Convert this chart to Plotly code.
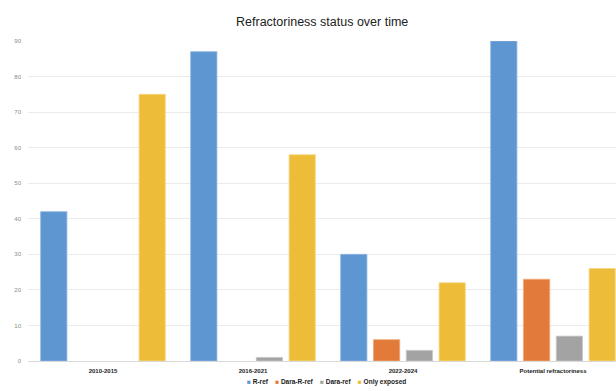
import plotly.graph_objects as go

categories = ["2010-2015", "2016-2021", "2022-2024", "Potential refractoriness"]
r_ref = [42, 87, 30, 90]
dara_r_ref = [0, 0, 6, 23]
dara_ref = [0, 1, 3, 7]
only_exposed = [75, 58, 22, 26]

series = [
    ("R-ref", r_ref, "#5E96D2", "#8DB5E2"),
    ("Dara-R-ref", dara_r_ref, "#E27B3A", "#F0A77A"),
    ("Dara-ref", dara_ref, "#A3A3A3", "#C8C8C8"),
    ("Only exposed", only_exposed, "#EDBD3A", "#F6D782"),
]

fig = go.Figure()
for name, vals, color, edge in series:
    # thin lighter edge only on bars that have a height
    widths = [0.8 if v > 0 else 0 for v in vals]
    fig.add_trace(go.Bar(
        name=name, x=categories, y=vals,
        marker=dict(color=color, line=dict(color=edge, width=widths)),
    ))

# compact one-line key beneath the axis: small coloured square + series name
key_text = "&nbsp;&nbsp;&nbsp;&nbsp;".join(
    f"<span style='color:{color}'>■</span>&nbsp;<b>{name}</b>"
    for name, _, color, _ in series
)
fig.add_annotation(
    text=key_text, xref="paper", yref="paper", x=0.5085, y=-0.066,
    xanchor="center", yanchor="middle", showarrow=False,
    font=dict(size=6.5, color="#222222"),
)

fig.update_layout(
    width=616, height=391,
    margin=dict(l=28, r=0, t=41, b=30, autoexpand=False),
    paper_bgcolor="white", plot_bgcolor="white",
    barmode="group", bargap=0.125, bargroupgap=0.2,
    font=dict(family="Liberation Sans, Arial, sans-serif"),
    title=dict(text="Refractoriness status over time", x=0.523, xref="container",
               y=0.944, yref="container", xanchor="center", yanchor="middle",
               font=dict(size=12.5, color="#222222")),
    showlegend=False,
)
fig.update_xaxes(
    range=[-0.5, 3.42], tickmode="array", tickvals=categories,
    showgrid=False, showline=True, linecolor="#D9D9D9", linewidth=1,
    ticks="", tickfont=dict(size=6, color="#222222", weight="bold"), ticklabelstandoff=4,
)
fig.update_yaxes(
    range=[0, 90], dtick=10, showgrid=True, gridcolor="#EBEBEB", gridwidth=1,
    zeroline=False, showline=False, ticks="",
    tickfont=dict(size=6, color="#8A8A8A"), ticklabelstandoff=6,
)

fig.write_html("out.html")
